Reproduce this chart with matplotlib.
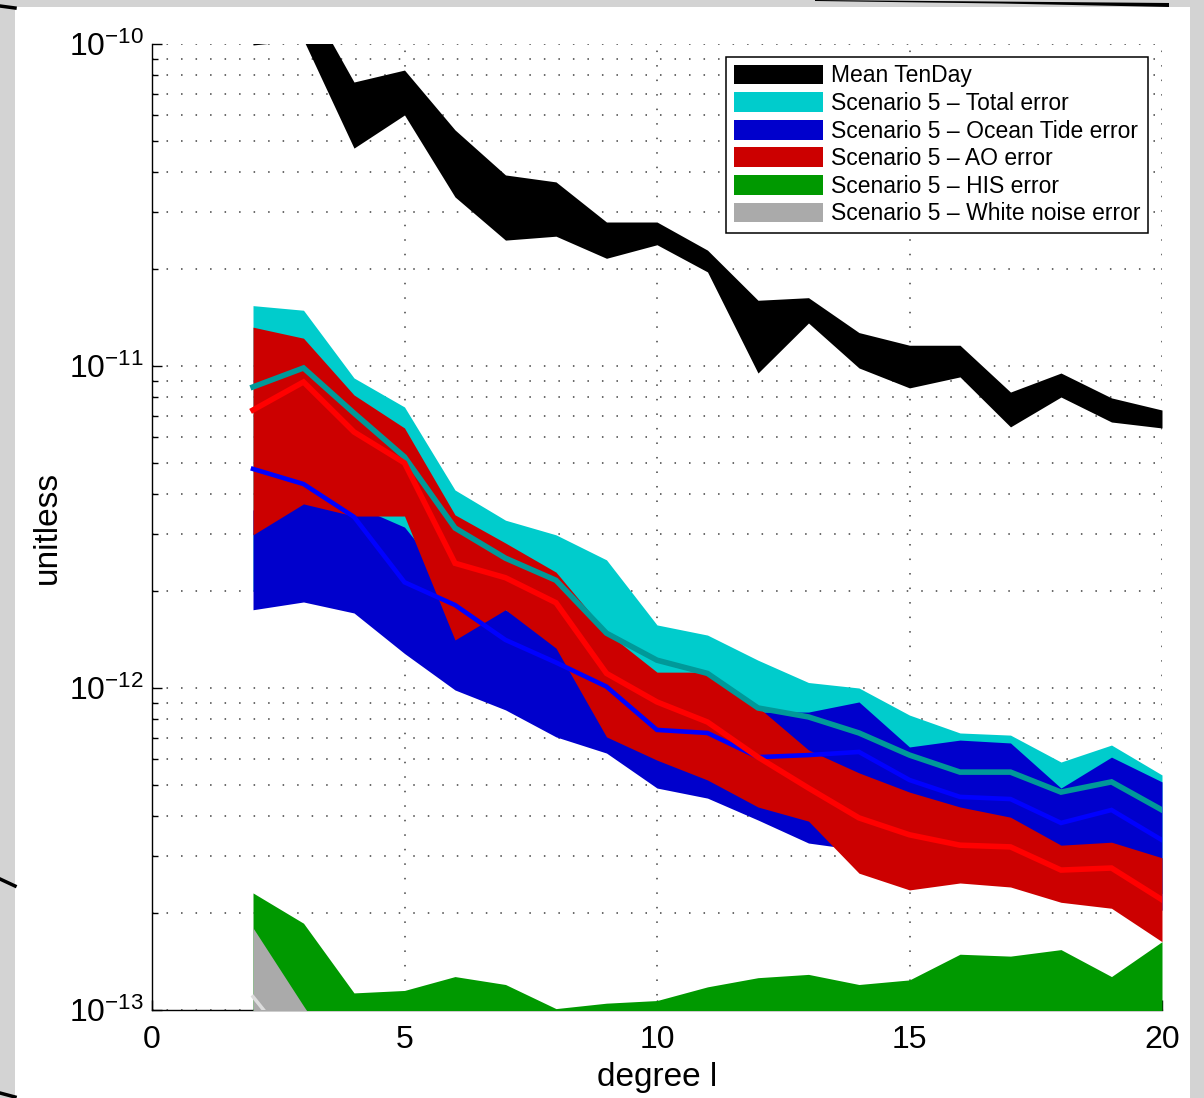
import numpy as np
import matplotlib
matplotlib.use("Agg")
import matplotlib.pyplot as plt
from matplotlib.ticker import LogLocator, NullFormatter, FixedLocator
from matplotlib.patches import Rectangle, Polygon
from matplotlib.lines import Line2D

plt.rcParams['font.family'] = ['Liberation Sans', 'DejaVu Sans']
plt.rcParams['mathtext.fontset'] = 'custom'
plt.rcParams['mathtext.rm'] = 'Liberation Sans'
plt.rcParams['mathtext.it'] = 'Liberation Sans:italic'

degree = np.arange(2, 21)

# mean ten-day signal (band)
tenday_hi = [1.30e-10, 1.45e-10, 7.62e-11, 8.30e-11, 5.41e-11, 3.92e-11, 3.73e-11, 2.80e-11, 2.80e-11,
             2.29e-11, 1.60e-11, 1.63e-11, 1.27e-11, 1.16e-11, 1.16e-11, 8.30e-12, 9.51e-12, 7.96e-12, 7.30e-12]
tenday_lo = [9.93e-11, 1.03e-10, 4.75e-11, 6.02e-11, 3.35e-11, 2.46e-11, 2.53e-11, 2.16e-11, 2.38e-11,
             1.96e-11, 9.51e-12, 1.36e-11, 9.86e-12, 8.55e-12, 9.25e-12, 6.47e-12, 8.01e-12, 6.70e-12, 6.42e-12]

# total error
total_hi = [1.54e-11, 1.49e-11, 9.18e-12, 7.46e-12, 4.12e-12, 3.32e-12, 2.99e-12, 2.50e-12, 1.57e-12,
            1.46e-12, 1.22e-12, 1.04e-12, 1.00e-12, 8.24e-13, 7.25e-13, 7.14e-13, 5.89e-13, 6.65e-13, 5.37e-13]
total_lo = [2.0e-12, 2.1e-12, 1.9e-12, 1.5e-12, 1.15e-12, 9.8e-13, 8.0e-13, 7.2e-13, 5.5e-13,
            5.2e-13, 4.4e-13, 3.9e-13, 3.6e-13, 3.2e-13, 3.1e-13, 3.1e-13, 2.7e-13, 2.7e-13, 2.3e-13]
total_mean = [8.61e-12, 9.86e-12, 7.14e-12, 5.22e-12, 3.14e-12, 2.53e-12, 2.16e-12, 1.48e-12, 1.22e-12,
              1.11e-12, 8.67e-13, 8.13e-13, 7.25e-13, 6.19e-13, 5.48e-13, 5.48e-13, 4.75e-13, 5.11e-13, 4.18e-13]

# ocean tide error
ocean_hi = [3.57e-12, 3.98e-12, 3.70e-12, 3.16e-12, 2.02e-12, 1.75e-12, 1.41e-12, 1.22e-12, 1.06e-12,
            9.86e-13, 8.42e-13, 8.42e-13, 9.05e-13, 6.56e-13, 6.89e-13, 6.75e-13, 4.89e-13, 6.10e-13, 5.11e-13]
ocean_lo = [1.75e-12, 1.85e-12, 1.71e-12, 1.28e-12, 9.86e-13, 8.55e-13, 7.05e-13, 6.28e-13, 4.89e-13,
            4.55e-13, 3.89e-13, 3.30e-13, 3.14e-13, 2.82e-13, 2.82e-13, 2.82e-13, 2.44e-13, 2.44e-13, 2.04e-13]
ocean_mean = [4.79e-12, 4.30e-12, 3.40e-12, 2.13e-12, 1.81e-12, 1.41e-12, 1.20e-12, 1.01e-12, 7.41e-13,
              7.25e-13, 6.10e-13, 6.19e-13, 6.33e-13, 5.18e-13, 4.59e-13, 4.52e-13, 3.81e-13, 4.18e-13, 3.37e-13]

# atmosphere/ocean error
ao_hi = [1.32e-11, 1.22e-11, 8.13e-12, 6.42e-12, 3.45e-12, 2.82e-12, 2.29e-12, 1.49e-12, 1.12e-12,
         1.12e-12, 8.73e-13, 6.42e-13, 5.45e-13, 4.75e-13, 4.27e-13, 3.97e-13, 3.25e-13, 3.32e-13, 2.97e-13]
ao_lo = [2.99e-12, 3.73e-12, 3.42e-12, 3.42e-12, 1.41e-12, 1.75e-12, 1.33e-12, 7.05e-13, 5.97e-13,
         5.18e-13, 4.27e-13, 3.86e-13, 2.66e-13, 2.36e-13, 2.48e-13, 2.41e-13, 2.16e-13, 2.07e-13, 1.63e-13]
ao_mean = [7.30e-12, 8.92e-12, 6.24e-12, 5.00e-12, 2.44e-12, 2.20e-12, 1.84e-12, 1.11e-12, 9.05e-13,
           7.84e-13, 6.10e-13, 4.89e-13, 3.95e-13, 3.50e-13, 3.25e-13, 3.21e-13, 2.72e-13, 2.76e-13, 2.20e-13]

# hydrology, ice, solid earth error
his_hi = [2.31e-13, 1.86e-13, 1.13e-13, 1.15e-13, 1.27e-13, 1.20e-13, 1.01e-13, 1.05e-13, 1.07e-13,
          1.18e-13, 1.26e-13, 1.29e-13, 1.20e-13, 1.24e-13, 1.49e-13, 1.47e-13, 1.54e-13, 1.27e-13, 1.63e-13]
his_lo = [5.0e-14, 4.8e-14, 4.0e-14, 4.1e-14, 4.4e-14, 4.2e-14, 3.8e-14, 3.9e-14, 4.0e-14,
          4.2e-14, 4.4e-14, 4.5e-14, 4.2e-14, 4.3e-14, 5.0e-14, 4.9e-14, 5.1e-14, 4.4e-14, 5.4e-14]

# white noise error
noise_hi = [1.80e-13, 1.03e-13, 6.0e-14, 5.0e-14, 4.4e-14, 4.0e-14, 3.7e-14, 3.5e-14, 3.3e-14,
            3.2e-14, 3.1e-14, 3.0e-14, 2.9e-14, 2.8e-14, 2.7e-14, 2.6e-14, 2.5e-14, 2.4e-14, 2.3e-14]
noise_lo = [2.0e-14, 1.2e-14, 8.0e-15, 6.0e-15, 5.0e-15, 4.5e-15, 4.0e-15, 3.6e-15, 3.3e-15,
            3.0e-15, 2.8e-15, 2.6e-15, 2.4e-15, 2.3e-15, 2.2e-15, 2.1e-15, 2.0e-15, 1.9e-15, 1.8e-15]
noise_mean = [1.10e-13, 7.0e-14, 3.0e-14, 2.2e-14, 1.8e-14, 1.6e-14, 1.5e-14, 1.4e-14, 1.3e-14,
              1.2e-14, 1.1e-14, 1.05e-14, 1.0e-14, 9.5e-15, 9.0e-15, 8.5e-15, 8.0e-15, 7.5e-15, 7.0e-15]

labels = ['Mean TenDay',
          'Scenario 5 \u2013 Total error',
          'Scenario 5 \u2013 Ocean Tide error',
          'Scenario 5 \u2013 AO error',
          'Scenario 5 \u2013 HIS error',
          'Scenario 5 \u2013 White noise error']

W, H = 1204, 1098
fig = plt.figure(figsize=(W / 100, H / 100), dpi=100)
fig.patch.set_facecolor('#d3d3d3')


def fpt(px, py):
    return px / W, 1 - py / H


# white page with a few stray slide edges
fig.patches.append(Rectangle(fpt(15, H), 1175 / W, (H - 7) / H, transform=fig.transFigure,
                             facecolor='white', edgecolor='none', zorder=-10))
fig.patches.append(Polygon([fpt(815, 0), fpt(1169, 3), fpt(1169, 7), fpt(1000, 3.5), fpt(815, 1)],
                           closed=True, transform=fig.transFigure, facecolor='black',
                           edgecolor='none', zorder=-9))
for (x0, y0, x1, y1) in [(0, 6, 15, 8), (0, 879, 15, 886), (0, 1093, 15, 1097)]:
    a, b = fpt(x0, y0)
    c, d = fpt(x1, y1)
    fig.add_artist(Line2D([a, c], [b, d], transform=fig.transFigure, color='black', lw=2.5))

ax = fig.add_axes([152 / W, (H - 1010) / H, 1010 / W, 966 / H])
ax.set_facecolor('none')

ax.fill_between(degree, tenday_lo, tenday_hi, color='black', lw=0, zorder=3, label=labels[0])
ax.fill_between(degree, total_lo, total_hi, color='#00cccc', lw=0, zorder=4, label=labels[1])
ax.fill_between(degree, ocean_lo, ocean_hi, color='#0000cc', lw=0, zorder=5, label=labels[2])
ax.fill_between(degree, ao_lo, ao_hi, color='#cc0000', lw=0, zorder=6, label=labels[3])
ax.fill_between(degree, his_lo, his_hi, color='#009900', lw=0, zorder=7, label=labels[4])
ax.fill_between(degree, noise_lo, noise_hi, color='#aaaaaa', lw=0, zorder=8, label=labels[5])

ax.plot(degree, total_mean, color='#009999', lw=4, zorder=9, solid_joinstyle='miter')
ax.plot(degree, ocean_mean, color='#0000ff', lw=3.3, zorder=10, solid_joinstyle='miter')
ax.plot(degree, ao_mean, color='#ff0000', lw=4, zorder=11, solid_joinstyle='miter')
ax.plot(degree, noise_mean, color='#dddddd', lw=2.5, zorder=12)

ax.set_yscale('log')
ax.set_xlim(0, 20)
ax.set_ylim(1e-13, 1e-10)
ax.xaxis.set_major_locator(FixedLocator([0, 5, 10, 15, 20]))
ax.yaxis.set_major_locator(LogLocator(base=10))
ax.yaxis.set_minor_locator(LogLocator(base=10, subs=range(2, 10)))
ax.yaxis.set_minor_formatter(NullFormatter())

ax.set_axisbelow(True)
grid_style = dict(color='0.25', linestyle=(0, (1, 8.5)), linewidth=1.1)
ax.grid(True, which='major', axis='both', **grid_style)
ax.grid(True, which='minor', axis='y', **grid_style)

ax.spines['top'].set_visible(False)
ax.spines['right'].set_visible(False)
for s in ('left', 'bottom'):
    ax.spines[s].set_linewidth(1.0)
    ax.spines[s].set_color('black')

ax.tick_params(which='both', direction='in', top=False, right=False, labelsize=23, width=1)
ax.tick_params(which='major', length=7)
ax.tick_params(which='minor', length=4)
ax.tick_params(axis='x', pad=11)
ax.tick_params(axis='y', pad=6)

ax.set_xlabel('degree l', fontsize=24)
ax.set_ylabel('unitless', fontsize=24)
ax.xaxis.set_label_coords(0.5, -0.054)
ax.yaxis.set_label_coords(-0.088, 0.5)

leg = ax.legend(loc='upper right', bbox_to_anchor=(0.986, 0.9865), borderaxespad=0,
                fontsize=16.5, handlelength=3.9, handleheight=0.95, handletextpad=0.35,
                labelspacing=0.2, borderpad=0.32, fancybox=False, framealpha=1)
leg.get_frame().set_edgecolor('black')
leg.get_frame().set_linewidth(1.1)
leg.set_zorder(20)

fig.savefig('out.png', dpi=100, facecolor=fig.get_facecolor())
